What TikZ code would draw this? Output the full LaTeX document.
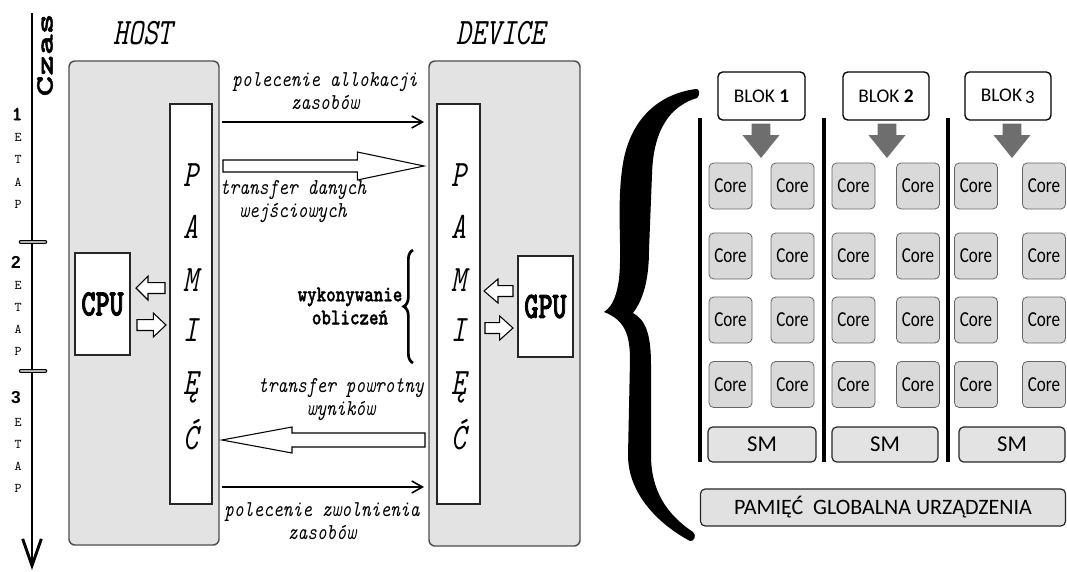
\documentclass[tikz,border=0pt]{standalone}
\usepackage{fontspec}
\usetikzlibrary{calc,arrows.meta,decorations.pathreplacing}
\newfontfamily\mA[FakeStretch=0.76, Extension=.otf, UprightFont=*-regular, ItalicFont=*-italic]{lmmono10}
\newfontfamily\mB[FakeStretch=0.82, Extension=.otf, UprightFont=*-regular, ItalicFont=*-italic]{lmmono10}
\newfontfamily\mCb[FakeStretch=0.72, FakeBold=2.2]{lmmonolt10-bold.otf}
\newfontfamily\mBb[FakeStretch=0.8, FakeBold=1.3]{lmmonolt10-bold.otf}
\newfontfamily\mW[FakeStretch=1.6, FakeBold=1.8]{lmmonolt10-bold.otf}
\newfontfamily\mP{lmmono10-regular.otf}
\newfontfamily\mPb[FakeBold=1.5]{lmmonolt10-bold.otf}
\newfontfamily\sansB{Liberation Sans}
\newfontfamily\calibri{Carlito}
\newfontfamily\calibric[FakeStretch=0.8]{Carlito}
\definecolor{boxgray}{HTML}{E3E3E3}
\definecolor{coregray}{HTML}{D9D9D9}
\definecolor{edgegray}{HTML}{4D4D4D}
\definecolor{arrgray}{HTML}{6E6E6E}
\newcommand\px[1]{#1*0.75pt}
\newcommand\blockarrow[6][]{%
  \path ($(#3)!#4!(#2)$) coordinate (hb);
  \draw[#1] ($(#2)!#5!90:(#3)$) -- ($(hb)!#5!90:(#3)$) -- ($(hb)!#6!90:(#3)$) -- (#3)
    -- ($(hb)!#6!-90:(#3)$) -- ($(hb)!#5!-90:(#3)$) -- ($(#2)!#5!-90:(#3)$) -- cycle;}
\tikzset{
  panel/.style={draw=edgegray, fill=boxgray, rounded corners=4.5pt, line width=1.1pt, inner sep=0pt, outer sep=0pt},
  memcol/.style={draw=black!85, fill=white, line width=0.9pt, inner sep=0pt, outer sep=0pt},
  procbox/.style={draw=black!85, fill=white, line width=0.9pt, inner sep=0pt, outer sep=0pt, font=\mCb\fontsize{28}{28}\selectfont},
  memletter/.style={anchor=base, inner sep=0pt, font=\mA\itshape\fontsize{28}{28}\selectfont},
  heading/.style={inner sep=0pt, font=\mA\itshape\fontsize{28}{28}\selectfont},
  lbl/.style={align=center, inner sep=0pt, font=\mB\itshape\fontsize{17}{17.3}\selectfont},
  lblb/.style={align=center, inner sep=0pt, font=\mBb\fontsize{17}{17.3}\selectfont},
  thinarr/.style={line width=1.2pt, -{Straight Barb[length=8pt,width=9pt]}},
  hollow/.style={draw=black, fill=white, line width=0.8pt, line join=miter},
  grayarr/.style={draw=none, fill=arrgray},
  etap/.style={inner sep=0pt, font=\mP\fontsize{10}{10}\selectfont},
  etapnum/.style={inner sep=0pt, font=\sansB\bfseries\fontsize{13}{13}\selectfont},
  tick/.style={line width=0.8pt, double=gray!60, double distance=1.8pt, line cap=round},
  timearr/.style={line width=2.2pt, -{Straight Barb[length=20pt,width=14pt]}},
  core/.style={draw=black!60, fill=coregray, rounded corners=3.5pt, line width=0.6pt, inner sep=0pt,
    minimum width=\px{43}, minimum height=\px{46}, font=\calibric\fontsize{16}{16}\selectfont},
  blok/.style={draw=black, fill=white, rounded corners=3.5pt, line width=1pt, inner sep=0pt,
    minimum width=\px{87}, minimum height=\px{48}, font=\calibri\fontsize{14.5}{14.5}\selectfont},
  smbox/.style={draw=black!85, fill=boxgray, rounded corners=3.5pt, line width=0.9pt, inner sep=0pt,
    minimum height=\px{35}, font=\calibri\fontsize{17}{17}\selectfont},
  gbox/.style={draw=black!85, fill=coregray!80!white, rounded corners=3.5pt, line width=0.9pt, inner sep=0pt,
    font=\calibri\fontsize{16.5}{16.5}\selectfont},
  sepline/.style={line width=2.6pt},
}
\begin{document}
\begin{tikzpicture}[x=0.75pt,y=-0.75pt]
\useasboundingbox (0,0) rectangle (1067,571);
\fill[white] (0,0) rectangle (1067,571);

% ---------- time axis ----------
\coordinate (ttop) at (32,13);
\coordinate (tbot) at (32,570);
\draw[timearr] (ttop) -- (tbot);
\coordinate (tk1a) at (21,242); \coordinate (tk1b) at (45,242);
\coordinate (tk2a) at (21,371); \coordinate (tk2b) at (45,371);
\draw[tick] (tk1a) -- (tk1b);
\draw[tick] (tk2a) -- (tk2b);
\node[rotate=90, inner sep=0pt, font=\mW\fontsize{18.5}{18.5}\selectfont] (czas) at (45,55) {Czas};

\node[etapnum, font=\mPb\fontsize{15}{15}\selectfont] (n1) at (17,114) {1};
\node[etap] (e1a) at (18,137) {E};
\node[etap] (e1b) at (18,159) {T};
\node[etap] (e1c) at (18,182) {A};
\node[etap] (e1d) at (18,204) {P};
\node[etapnum] (n2) at (16,262) {2};
\node[etap] (e2a) at (18,285) {E};
\node[etap] (e2b) at (18,307) {T};
\node[etap] (e2c) at (18,329) {A};
\node[etap] (e2d) at (18,351) {P};
\node[etapnum] (n3) at (16,398) {3};
\node[etap] (e3a) at (18,422) {E};
\node[etap] (e3b) at (18,444) {T};
\node[etap] (e3c) at (18,466) {A};
\node[etap] (e3d) at (18,488) {P};

% ---------- host / device ----------
\node[heading] (host) at (143,33) {HOST};
\node[heading] (device) at (501,33) {DEVICE};
\node[panel, minimum width=\px{150}, minimum height=\px{484}] (hostpanel) at (144,303) {};
\node[panel, minimum width=\px{151}, minimum height=\px{485}] (devpanel) at (504.5,303.5) {};
\node[memcol, minimum width=\px{42}, minimum height=\px{400}] (hostmem) at (191,304) {};
\node[memcol, minimum width=\px{43}, minimum height=\px{400}] (devmem) at (458.5,304) {};
\node[procbox, minimum width=\px{55}, minimum height=\px{102}] (cpu) at (102.5,304) {CPU};
\node[procbox, minimum width=\px{55}, minimum height=\px{101}] (gpu) at (545.5,306.5) {GPU};

\foreach \l/\y [count=\i] in {P/186,A/238.5,M/291.5,I/341.5,Ę/394.5,Ć/449} {
  \node[memletter] (hl\i) at (hostmem.center |- 0,\y) {\l};
  \node[memletter] (dl\i) at (devmem.center |- 0,\y) {\l};
}

% small hollow arrows CPU / GPU
\coordinate (ca1) at ($(hostmem.west |- 0,288)+(-5,0)$);
\coordinate (ca2) at ($(cpu.east |- 0,288)+(6,0)$);
\blockarrow[hollow]{ca1}{ca2}{9pt}{4.1pt}{9pt}
\coordinate (cb1) at ($(cpu.east |- 0,325)+(7,0)$);
\coordinate (cb2) at ($(hostmem.west |- 0,325)+(-4,0)$);
\blockarrow[hollow]{cb1}{cb2}{9.5pt}{4.1pt}{9pt}
\coordinate (ga1) at ($(gpu.west |- 0,291)+(-5,0)$);
\coordinate (ga2) at ($(devmem.east |- 0,291)+(4,0)$);
\blockarrow[hollow]{ga1}{ga2}{10.5pt}{4.1pt}{9pt}
\coordinate (gb1) at ($(devmem.east |- 0,328)+(5,0)$);
\coordinate (gb2) at ($(gpu.west |- 0,328)+(-5,0)$);
\blockarrow[hollow]{gb1}{gb2}{10pt}{4.1pt}{9pt}

% transfers between host and device
\draw[thinarr] ($(hostpanel.east |- 0,122)+(3,0)$) -- ($(devpanel.west |- 0,122)+(-5,0)$);
\node[lbl] (l1) at (325,91) {polecenie allokacji\\zasobów};

\coordinate (t1s) at ($(hostpanel.east |- 0,166)+(4,0)$);
\coordinate (t1e) at ($(devpanel.west |- 0,166)+(-5,0)$);
\blockarrow[hollow]{t1s}{t1e}{50pt}{4.5pt}{10.5pt}
\node[lbl] (l2) at (293,202) {transfer danych\\wejściowych};

\node[lblb] (l5) at (350,306) {wykonywanie\\obliczeń};
\coordinate (brb) at (413,363);
\coordinate (brt) at (413,250);
\draw[line width=2pt, decorate, decoration={brace, amplitude=7pt}] (brb) -- (brt);

\node[lbl] (l3) at (341,400) {transfer powrotny\\wyników};
\coordinate (t2s) at ($(devpanel.west |- 0,440)+(-4,0)$);
\coordinate (t2e) at ($(hostpanel.east |- 0,440)+(3,0)$);
\blockarrow[hollow]{t2s}{t2e}{52.5pt}{5.25pt}{9.75pt}

\draw[thinarr] ($(hostpanel.east |- 0,487)+(3,0)$) -- ($(devpanel.west |- 0,487)+(-5,0)$);
\node[lbl] (l4) at (322,521) {polecenie zwolnienia\\zasobów};

% ---------- big brace ----------
\fill[black] (696,89)
  .. controls (658,94) and (628,120) .. (622,170)
  .. controls (616,215) and (624,262) .. (617,290)
  .. controls (614,302) and (610,308) .. (604,312)
  .. controls (625,320) and (630,335) .. (630,360)
  -- (628,455)
  .. controls (628,495) and (660,525) .. (690,541)
  .. controls (694,542) and (697,535) .. (693,532)
  .. controls (666,514) and (651,490) .. (651,455)
  -- (651,365)
  .. controls (651,335) and (646,320) .. (633,313)
  .. controls (643,300) and (649,280) .. (649,250)
  -- (652,175)
  .. controls (653,130) and (670,106) .. (697,98)
  .. controls (700,96) and (700,88) .. (696,89) -- cycle;

% ---------- GPU blocks ----------
\coordinate (s1t) at (700,118); \coordinate (s1b) at (700,462);
\coordinate (s2t) at (824,118); \coordinate (s2b) at (824,462);
\coordinate (s3t) at (948,118); \coordinate (s3b) at (948,462);
\draw[sepline] (s1t) -- (s1b);
\draw[sepline] (s2t) -- (s2b);
\draw[sepline] (s3t) -- (s3b);

\node[blok] (blok1) at (761.5,96) {BLOK \textbf{1}};
\node[blok, minimum width=\px{86}] (blok2) at (886,96) {BLOK \textbf{2}};
\node[blok, minimum width=\px{86}] (blok3) at (1008,96) {BLOK\,{\addfontfeature{Numbers=OldStyle}3}};

\foreach \b/\xc in {1/761,2/887,3/1012} {
  \coordinate (ga\b s) at ($(blok\b.south -| \xc,0)+(0,3)$);
  \coordinate (ga\b e) at (\xc,158);
  \blockarrow[grayarr]{ga\b s}{ga\b e}{17.25pt}{7.1pt}{13.9pt}
}

\foreach \b/\xa/\xb in {1/730.5/792.5,2/853.5/918,3/976/1044} {
  \foreach \r/\y in {1/186,2/256,3/320,4/384.5} {
    \node[core] (c\b-\r-a) at (\xa,\y) {Core};
    \node[core] (c\b-\r-b) at (\xb,\y) {Core};
  }
}

\node[smbox, minimum width=\px{108}] (sm1) at (762,444.5) {SM};
\node[smbox, minimum width=\px{106}] (sm2) at (885,444.5) {SM};
\node[smbox, minimum width=\px{106}] (sm3) at (1012,444.5) {SM};

\node[gbox, minimum width=\px{365}, minimum height=\px{37}] (gmem) at (883,507.5) {PAMIĘĆ\ \ GLOBALNA URZĄDZENIA};
\end{tikzpicture}
\end{document}
